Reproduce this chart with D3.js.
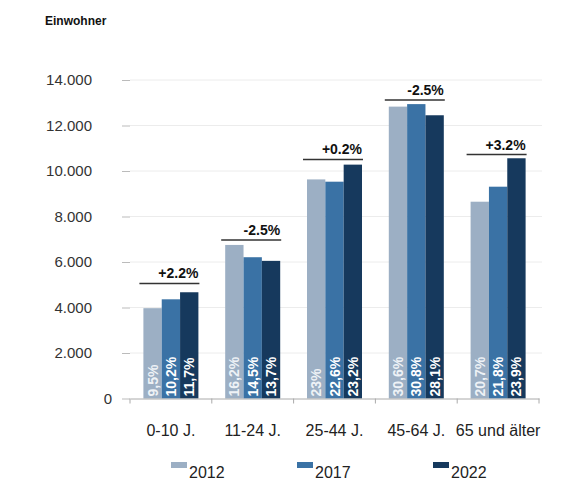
<!DOCTYPE html>
<html>
<head>
<meta charset="utf-8">
<script src="https://cdn.jsdelivr.net/npm/d3@7"></script>
<style>
  html, body { margin: 0; padding: 0; background: #fff; }
  svg { display: block; }
</style>
</head>
<body>
<svg id="chart" width="572" height="481"></svg>
<script>
// ---- data ----
const categories = ["0-10 J.", "11-24 J.", "25-44 J.", "45-64 J.", "65 und älter"];
const years = ["2012", "2017", "2022"];
const values2012 = [3970, 6750, 9630, 12830, 8650];
const values2017 = [4360, 6210, 9530, 12940, 9310];
const values2022 = [4670, 6050, 10280, 12450, 10560];
const share2012 = ["9,5%", "16,2%", "23%", "30,6%", "20,7%"];
const share2017 = ["10,2%", "14,5%", "22,6%", "30,8%", "21,8%"];
const share2022 = ["11,7%", "13,7%", "23,2%", "28,1%", "23,9%"];
const changeLabels = ["+2.2%", "-2.5%", "+0.2%", "-2.5%", "+3.2%"];
const bracketLevel = [5060, 6970, 10510, 13120, 10720];
const yTicks = [0, 2000, 4000, 6000, 8000, 10000, 12000, 14000];
const titleText = "Einwohner";

const seriesValues = [values2012, values2017, values2022];
const seriesShares = [share2012, share2017, share2022];
const colors = ["#9cafc4", "#3a72a5", "#16395d"];
const shareColors = ["#eef2f6", "#ffffff", "#ffffff"];

// ---- layout ----
const svg = d3.select("#chart");
const mLeft = 130, mRight = 539, mTop = 80, mBottom = 398.5;

const x = d3.scaleBand().domain(categories).range([mLeft, mRight]).padding(0);
const groupWidth = 55;
const xs = d3.scaleBand().domain(years).range([0, groupWidth]).padding(0);
const y = d3.scaleLinear().domain([0, 14000]).range([mBottom, mTop]);

const de = d3.formatLocale({decimal: ",", thousands: ".", grouping: [3], currency: ["", "€"]});
const fmt = de.format(",.0f");

const sans = "'Liberation Sans', Arial, Helvetica, sans-serif";

// title
svg.append("text")
  .attr("x", 45).attr("y", 25)
  .attr("font-family", sans).attr("font-weight", "bold").attr("font-size", 12)
  .attr("fill", "#111")
  .text(titleText);

// gridlines
svg.append("g").selectAll("line").data(yTicks.filter(d => d > 0)).join("line")
  .attr("x1", mLeft).attr("x2", 542)
  .attr("y1", d => y(d)).attr("y2", d => y(d))
  .attr("stroke", "#ececec").attr("stroke-width", 1);

// y axis
const yAxis = svg.append("g")
  .attr("transform", `translate(${mLeft},0)`)
  .call(d3.axisLeft(y).tickValues(yTicks).tickFormat(fmt).tickSize(8).tickPadding(30));
yAxis.select(".domain").remove();
yAxis.selectAll(".tick line").attr("stroke", "#bbbbbb");
yAxis.selectAll(".tick text")
  .attr("font-family", sans).attr("font-size", 15).attr("fill", "#333")
  .attr("dx", d => d === 0 ? 20 : 0);

// bars
const groups = svg.append("g").selectAll("g").data(categories).join("g")
  .attr("transform", d => `translate(${x(d) + (x.bandwidth() - groupWidth) / 2},0)`);

years.forEach((yr, si) => {
  groups.append("rect")
    .attr("x", xs(yr))
    .attr("width", xs.bandwidth())
    .attr("y", (d, i) => y(seriesValues[si][i]))
    .attr("height", (d, i) => mBottom - y(seriesValues[si][i]))
    .attr("fill", colors[si]);
  groups.append("text")
    .attr("transform", (d, i) => `translate(${xs(yr) + xs.bandwidth() / 2 + 5},${mBottom - 2}) rotate(-90)`)
    .attr("font-family", sans).attr("font-weight", "bold").attr("font-size", 14)
    .attr("fill", shareColors[si])
    .text((d, i) => seriesShares[si][i]);
});

// brackets with change labels
groups.append("line")
  .attr("x1", -4).attr("x2", groupWidth + 1)
  .attr("y1", (d, i) => y(bracketLevel[i])).attr("y2", (d, i) => y(bracketLevel[i]))
  .attr("stroke", "#333").attr("stroke-width", 1.5);
groups.append("text")
  .attr("x", groupWidth).attr("y", (d, i) => y(bracketLevel[i]) - 5)
  .attr("text-anchor", "end")
  .attr("font-family", sans).attr("font-weight", "bold").attr("font-size", 14)
  .attr("fill", "#111")
  .text((d, i) => changeLabels[i]);

// x axis
const xAxis = svg.append("g")
  .attr("transform", `translate(0,${mBottom})`)
  .call(d3.axisBottom(x).tickSize(0).tickPadding(26));
xAxis.select(".domain").attr("stroke", "#aaaaaa");
xAxis.selectAll(".tick text")
  .attr("font-family", sans).attr("font-size", 16).attr("fill", "#222");
// boundary ticks
const bounds = categories.map(c => x(c)).concat([mRight]);
xAxis.append("g").selectAll("line").data(bounds).join("line")
  .attr("x1", d => d).attr("x2", d => d)
  .attr("y1", 0).attr("y2", 5)
  .attr("stroke", "#aaaaaa");

// legend
const legendX = [171, 297, 433];
const legend = svg.append("g").selectAll("g").data(years).join("g")
  .attr("transform", (d, i) => `translate(${legendX[i]},0)`);
legend.append("rect")
  .attr("x", 0).attr("y", 462).attr("width", 16).attr("height", 6)
  .attr("fill", (d, i) => colors[i]);
legend.append("text")
  .attr("x", 18).attr("y", 478)
  .attr("font-family", sans).attr("font-size", 16).attr("fill", "#222")
  .text(d => d);
</script>
</body>
</html>
